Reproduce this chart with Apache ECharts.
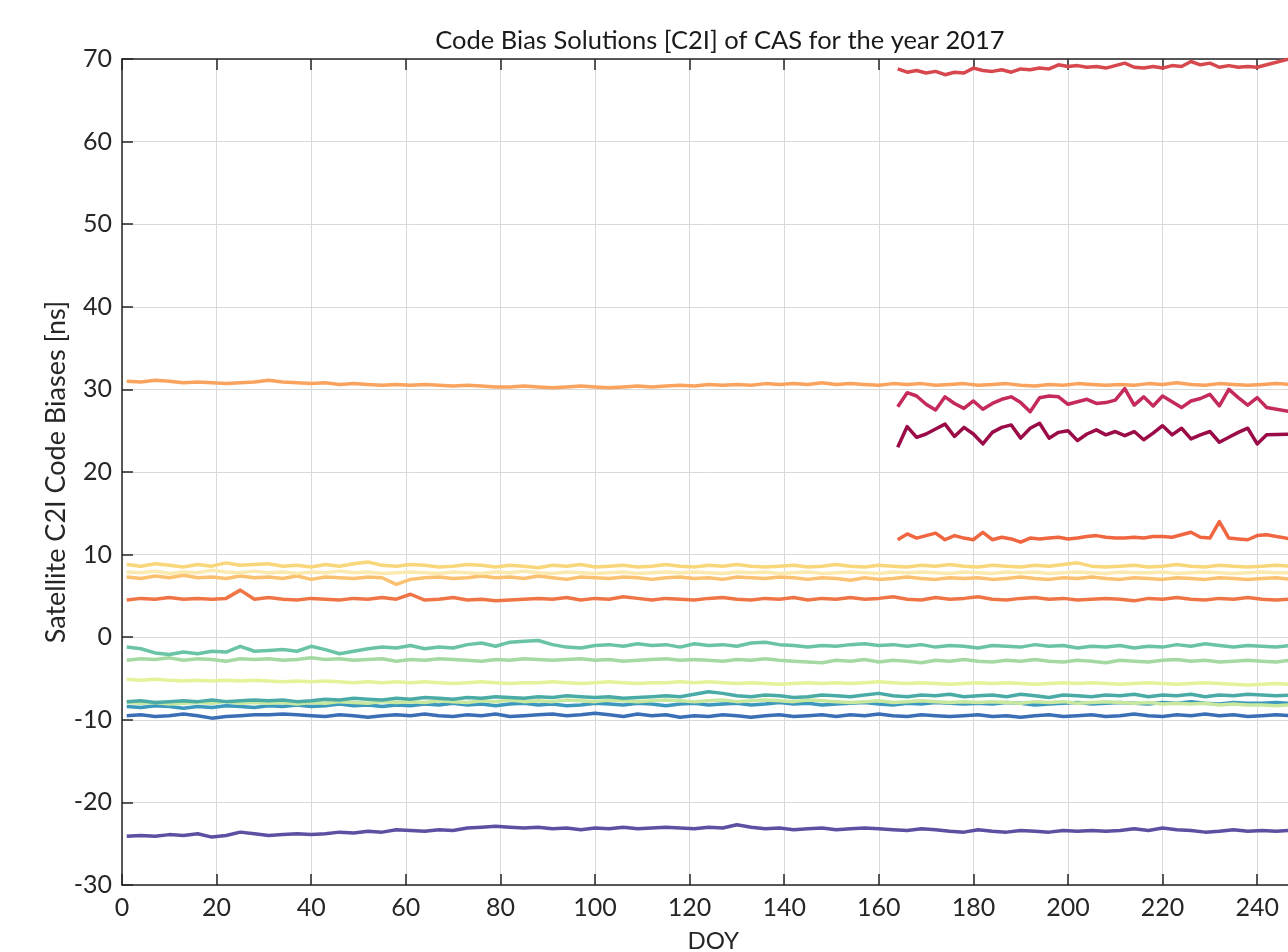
<!DOCTYPE html>
<html>
<head>
<meta charset="utf-8">
<title>Code Bias Solutions [C2I] of CAS</title>
<script src="https://cdn.jsdelivr.net/npm/echarts@6/dist/echarts.min.js"></script>
<style>
  html, body { margin: 0; padding: 0; background: #fff; }
  #chart { width: 1288px; height: 952px; }
</style>
</head>
<body>
<div id="chart"></div>
<script>
// sampling days (DOY)
const fullDays = [1,4,7,10,13,16,19,22,25,28,31,34,37,40,43,46,49,52,55,58,61,64,67,70,73,76,79,82,85,88,
  91,94,97,100,103,106,109,112,115,118,121,124,127,130,133,136,139,142,145,148,151,154,157,160,163,166,169,172,175,178,
  181,184,187,190,193,196,199,202,205,208,211,214,217,220,223,226,229,232,235,238,241,244,247];
const lateDays = [164,166,168,170,172,174,176,178,180,182,184,186,188,190,192,194,196,198,200,202,
  204,206,208,210,212,214,216,218,220,222,224,226,228,230,232,234,236,238,240,242,250];

// satellites that start at DOY 164
const satRed = [68.8,68.4,68.6,68.3,68.5,68.1,68.4,68.3,68.9,68.6,68.5,68.7,68.4,68.8,68.7,68.9,68.8,69.3,69.1,69.2,
  69.0,69.1,68.9,69.2,69.5,69.0,68.9,69.1,68.9,69.2,69.1,69.7,69.3,69.5,69.0,69.2,69.0,69.1,69.0,69.3,70.5];
const satCrimson = [27.9,29.6,29.2,28.2,27.5,29.1,28.3,27.7,28.6,27.6,28.3,28.8,29.1,28.4,27.3,29.0,29.2,29.1,28.2,28.5,
  28.8,28.3,28.4,28.7,30.1,28.1,29.1,28.0,29.2,28.5,27.8,28.6,28.9,29.4,28.0,30.0,29.0,28.1,29.0,27.8,27.0];
const satMaroon = [23.0,25.5,24.2,24.6,25.2,25.8,24.3,25.4,24.6,23.4,24.8,25.4,25.7,24.1,25.3,25.9,24.1,24.8,25.0,23.8,
  24.6,25.1,24.5,24.9,24.4,24.9,23.9,24.7,25.6,24.5,25.3,24.0,24.5,24.9,23.6,24.2,24.8,25.3,23.4,24.5,24.6];
const satOrangeRed = [11.8,12.5,12.0,12.3,12.6,11.8,12.3,12.0,11.8,12.7,11.8,12.1,11.9,11.5,12.0,11.9,12.0,12.1,11.9,12.0,
  12.2,12.3,12.1,12.0,12.0,12.1,12.0,12.2,12.2,12.1,12.4,12.7,12.1,12.0,14.0,12.0,11.9,11.8,12.3,12.4,11.6];

// satellites over the whole period
const satOrange30 = [31.0,30.9,31.1,31.0,30.8,30.9,30.8,30.7,30.8,30.9, 31.1,30.9,30.8,30.7,30.8,30.6,30.7,30.6,30.5,30.6,
  30.5,30.6,30.5,30.4,30.5,30.4,30.3,30.3,30.4,30.3, 30.2,30.3,30.4,30.3,30.2,30.3,30.4,30.3,30.4,30.5,
  30.4,30.6,30.5,30.6,30.5,30.7,30.6,30.7,30.6,30.8, 30.6,30.7,30.6,30.5,30.7,30.6,30.7,30.5,30.6,30.7,
  30.5,30.6,30.7,30.5,30.4,30.6,30.5,30.7,30.6,30.5, 30.6,30.5,30.7,30.6,30.8,30.6,30.5,30.7,30.6,30.5, 30.6,30.7,30.6];
const satYellow = [8.8,8.6,8.9,8.7,8.5,8.8,8.6,9.0,8.7,8.8, 8.9,8.6,8.7,8.5,8.8,8.6,8.9,9.1,8.7,8.6,
  8.8,8.7,8.5,8.6,8.8,8.7,8.5,8.7,8.6,8.4, 8.7,8.6,8.8,8.5,8.6,8.7,8.5,8.6,8.8,8.6,
  8.5,8.7,8.6,8.8,8.6,8.5,8.6,8.7,8.5,8.6, 8.8,8.6,8.5,8.7,8.6,8.5,8.7,8.6,8.8,8.6,
  8.5,8.7,8.6,8.5,8.7,8.6,8.8,9.0,8.6,8.5, 8.6,8.7,8.5,8.6,8.8,8.6,8.5,8.7,8.6,8.5, 8.6,8.7,8.6];
const satPale = [7.9,7.8,8.0,7.7,7.9,7.8,8.1,7.9,7.8,8.0, 7.8,7.9,7.7,7.9,7.8,8.0,7.8,7.9,7.7,7.8,
  7.9,7.8,7.7,7.9,7.8,7.7,7.9,7.8,8.0,7.8, 7.7,7.9,7.8,7.7,7.8,7.9,7.7,7.8,7.9,7.8,
  7.9,7.8,7.7,7.9,7.8,7.9,7.7,7.8,7.9,7.7, 7.8,7.9,7.8,7.7,7.9,7.8,7.9,7.8,7.7,7.9,
  7.8,7.7,7.9,7.8,7.9,7.7,7.8,7.9,7.8,7.7, 7.9,7.8,7.8,7.9,7.7,7.8,7.9,7.8,7.7,7.8, 7.9,7.8,7.8];
const satOrangeYellow = [7.3,7.1,7.4,7.2,7.5,7.2,7.3,7.1,7.4,7.2, 7.3,7.1,7.4,7.0,7.3,7.2,7.1,7.3,7.2,6.4,
  7.0,7.2,7.3,7.1,7.2,7.4,7.2,7.3,7.1,7.4, 7.2,7.0,7.3,7.2,7.1,7.3,7.2,7.0,7.2,7.3,
  7.1,7.2,7.0,7.3,7.2,7.1,7.3,7.2,7.0,7.2, 7.1,6.9,7.2,7.0,7.1,7.3,7.1,7.0,7.2,7.1,
  7.2,7.0,7.1,7.3,7.1,7.0,7.2,7.1,7.3,7.1, 7.0,7.2,7.1,7.0,7.2,7.1,7.0,7.2,7.1,7.0, 7.1,7.2,7.0];
const satOrange5 = [4.5,4.7,4.6,4.8,4.6,4.7,4.6,4.7,5.7,4.6, 4.8,4.6,4.5,4.7,4.6,4.5,4.7,4.6,4.8,4.6,
  5.2,4.5,4.6,4.8,4.5,4.6,4.4,4.5,4.6,4.7, 4.6,4.8,4.5,4.7,4.6,4.9,4.7,4.5,4.7,4.6,
  4.5,4.7,4.8,4.6,4.5,4.7,4.6,4.8,4.5,4.7, 4.6,4.8,4.6,4.7,4.9,4.6,4.5,4.8,4.6,4.7,
  4.9,4.6,4.5,4.7,4.8,4.6,4.7,4.5,4.6,4.7, 4.6,4.4,4.7,4.6,4.8,4.6,4.5,4.7,4.6,4.8, 4.6,4.5,4.6];
const satGreen = [-1.2,-1.4,-1.9,-2.1,-1.8,-2.0,-1.7,-1.8,-1.1,-1.7, -1.6,-1.5,-1.7,-1.1,-1.5,-2.0,-1.7,-1.4,-1.2,-1.3,
  -1.0,-1.4,-1.2,-1.3,-0.9,-0.7,-1.1,-0.6,-0.5,-0.4, -0.9,-1.2,-1.3,-1.0,-0.9,-1.1,-0.8,-1.0,-0.9,-1.2,
  -0.8,-1.0,-0.9,-1.1,-0.7,-0.6,-0.9,-1.0,-1.2,-1.0, -1.1,-0.9,-0.8,-1.0,-0.9,-1.1,-0.9,-1.2,-1.0,-1.1,
  -1.3,-1.0,-1.1,-1.2,-0.9,-1.1,-1.0,-1.3,-1.1,-1.2, -1.0,-1.3,-1.1,-1.2,-0.9,-1.1,-0.8,-1.0,-1.2,-1.0, -1.1,-1.2,-1.0];
const satLightGreen = [-2.8,-2.6,-2.7,-2.5,-2.8,-2.6,-2.7,-2.9,-2.6,-2.7, -2.6,-2.8,-2.7,-2.5,-2.7,-2.6,-2.8,-2.7,-2.6,-2.9,
  -2.7,-2.8,-2.6,-2.7,-2.8,-2.9,-2.7,-2.8,-2.6,-2.7, -2.8,-2.7,-2.6,-2.8,-2.7,-2.9,-2.8,-2.7,-2.6,-2.8,
  -2.7,-2.8,-2.9,-2.7,-2.8,-2.6,-2.8,-2.9,-3.0,-3.1, -2.8,-2.9,-2.7,-3.0,-2.8,-2.9,-3.1,-2.8,-2.9,-2.7,
  -2.9,-3.0,-2.8,-2.9,-2.7,-2.9,-3.0,-2.8,-2.9,-3.1, -2.8,-2.9,-3.0,-2.8,-2.7,-2.9,-2.8,-3.0,-2.9,-2.8, -2.9,-3.0,-2.8];
const satPaleGreen = [-5.1,-5.2,-5.1,-5.2,-5.3,-5.2,-5.3,-5.2,-5.3,-5.2, -5.3,-5.4,-5.3,-5.4,-5.3,-5.4,-5.5,-5.4,-5.5,-5.4,
  -5.5,-5.4,-5.5,-5.6,-5.5,-5.4,-5.5,-5.6,-5.5,-5.5, -5.4,-5.5,-5.6,-5.5,-5.4,-5.5,-5.6,-5.5,-5.5,-5.4,
  -5.5,-5.4,-5.5,-5.6,-5.5,-5.6,-5.7,-5.6,-5.5,-5.6, -5.5,-5.6,-5.5,-5.4,-5.5,-5.6,-5.5,-5.6,-5.7,-5.6,
  -5.5,-5.6,-5.5,-5.6,-5.7,-5.6,-5.5,-5.6,-5.5,-5.6, -5.7,-5.6,-5.5,-5.6,-5.7,-5.6,-5.5,-5.6,-5.7,-5.8, -5.7,-5.6,-5.7];
const satTeal = [-7.8,-7.7,-7.9,-7.8,-7.7,-7.8,-7.6,-7.8,-7.7,-7.6, -7.7,-7.6,-7.8,-7.7,-7.5,-7.6,-7.4,-7.5,-7.6,-7.4,
  -7.5,-7.3,-7.4,-7.5,-7.3,-7.4,-7.2,-7.3,-7.4,-7.2, -7.3,-7.1,-7.2,-7.3,-7.2,-7.4,-7.3,-7.2,-7.1,-7.2,
  -6.9,-6.6,-6.8,-7.1,-7.2,-7.0,-7.1,-7.3,-7.2,-7.0, -7.1,-7.2,-7.0,-6.8,-7.1,-7.2,-7.0,-7.1,-6.9,-7.2,
  -7.1,-7.0,-7.2,-6.9,-7.1,-7.3,-7.0,-7.1,-7.2,-7.0, -7.1,-6.9,-7.2,-7.0,-7.1,-6.9,-7.2,-7.0,-7.1,-6.9, -7.0,-7.1,-7.0];
const satLightGreen2 = [-7.9,-8.0,-7.9,-8.1,-8.0,-7.9,-8.0,-7.8,-8.0,-7.9, -8.0,-7.9,-8.1,-7.9,-8.0,-7.8,-7.9,-8.0,-7.8,-7.9,
  -7.8,-7.9,-7.7,-7.8,-7.9,-7.7,-7.8,-7.6,-7.8,-7.7, -7.8,-7.6,-7.7,-7.8,-7.6,-7.7,-7.8,-7.7,-7.6,-7.7,
  -7.8,-7.7,-7.6,-7.8,-7.7,-7.6,-7.7,-7.8,-7.6,-7.7, -7.8,-7.9,-7.8,-7.7,-7.9,-7.8,-7.7,-7.8,-7.9,-7.8,
  -7.9,-7.8,-7.9,-8.0,-7.8,-7.9,-7.8,-8.0,-7.9,-7.8, -7.9,-8.0,-7.9,-8.1,-8.0,-8.1,-8.0,-8.2,-8.1,-8.2, -8.2,-8.3,-8.2];
const satCyan = [-8.4,-8.5,-8.3,-8.4,-8.6,-8.4,-8.5,-8.3,-8.4,-8.5, -8.3,-8.4,-8.2,-8.4,-8.3,-8.1,-8.3,-8.2,-8.4,-8.2,
  -8.3,-8.1,-8.2,-8.0,-8.2,-8.1,-8.3,-8.1,-8.0,-8.2, -8.1,-8.3,-8.2,-8.0,-8.1,-8.2,-8.0,-8.1,-8.3,-8.1,
  -8.0,-8.2,-8.1,-8.0,-8.2,-8.1,-7.9,-8.1,-8.0,-8.2, -8.1,-8.0,-7.9,-8.1,-8.2,-8.0,-8.1,-7.9,-8.0,-8.1,
  -8.0,-8.1,-7.9,-8.0,-8.2,-8.1,-8.0,-7.9,-8.1,-8.0, -7.9,-8.0,-8.1,-7.9,-8.0,-7.8,-8.0,-8.1,-7.9,-8.0, -8.0,-7.9,-8.0];
const satBlue = [-9.5,-9.4,-9.6,-9.5,-9.3,-9.5,-9.8,-9.6,-9.5,-9.4, -9.4,-9.3,-9.4,-9.5,-9.6,-9.4,-9.5,-9.7,-9.5,-9.4,
  -9.5,-9.3,-9.5,-9.6,-9.4,-9.5,-9.3,-9.6,-9.5,-9.4, -9.3,-9.5,-9.4,-9.2,-9.4,-9.6,-9.3,-9.5,-9.4,-9.7,
  -9.5,-9.6,-9.4,-9.5,-9.7,-9.5,-9.4,-9.6,-9.5,-9.4, -9.6,-9.4,-9.5,-9.3,-9.5,-9.6,-9.4,-9.5,-9.6,-9.5,
  -9.4,-9.6,-9.5,-9.7,-9.5,-9.4,-9.6,-9.5,-9.4,-9.6, -9.5,-9.3,-9.5,-9.6,-9.4,-9.5,-9.3,-9.5,-9.4,-9.6, -9.5,-9.4,-9.5];
const satPurple = [-24.1,-24.0,-24.1,-23.9,-24.0,-23.8,-24.2,-24.0,-23.6,-23.8, -24.0,-23.9,-23.8,-23.9,-23.8,-23.6,-23.7,-23.5,-23.6,-23.3,
  -23.4,-23.5,-23.3,-23.4,-23.1,-23.0,-22.9,-23.0,-23.1,-23.0, -23.2,-23.1,-23.3,-23.1,-23.2,-23.0,-23.2,-23.1,-23.0,-23.1,
  -23.2,-23.0,-23.1,-22.7,-23.0,-23.2,-23.1,-23.3,-23.2,-23.1, -23.3,-23.2,-23.1,-23.2,-23.3,-23.4,-23.2,-23.3,-23.5,-23.6,
  -23.3,-23.5,-23.6,-23.4,-23.5,-23.6,-23.4,-23.5,-23.4,-23.5, -23.4,-23.2,-23.4,-23.1,-23.3,-23.4,-23.6,-23.5,-23.3,-23.5, -23.4,-23.5,-23.4];

const xTicks = [0, 20, 40, 60, 80, 100, 120, 140, 160, 180, 200, 220, 240];
const yTicks = [-30, -20, -10, 0, 10, 20, 30, 40, 50, 60, 70];

const chartDom = document.getElementById('chart');
const myChart = echarts.init(chartDom);

const font = 'Lato';
const axisColor = '#262626';
const gridColor = '#d9d9d9';

const lines = [
  { days: fullDays, vals: satPurple, color: '#5e4fa2' },
  { days: fullDays, vals: satBlue, color: '#3a6fb6' },
  { days: fullDays, vals: satCyan, color: '#3d98be' },
  { days: fullDays, vals: satLightGreen2, color: '#c8e89e' },
  { days: fullDays, vals: satTeal, color: '#4aaba6' },
  { days: fullDays, vals: satPaleGreen, color: '#e4f39a' },
  { days: fullDays, vals: satLightGreen, color: '#a5d9a3' },
  { days: fullDays, vals: satGreen, color: '#6ac4a4' },
  { days: fullDays, vals: satOrange5, color: '#f07546' },
  { days: fullDays, vals: satOrangeYellow, color: '#fbc170' },
  { days: fullDays, vals: satPale, color: '#fbeab0' },
  { days: fullDays, vals: satYellow, color: '#f8d67a' },
  { days: fullDays, vals: satOrange30, color: '#f9a35e' },
  { days: lateDays, vals: satOrangeRed, color: '#ef6640' },
  { days: lateDays, vals: satMaroon, color: '#9b0b47' },
  { days: lateDays, vals: satCrimson, color: '#c42a5a' },
  { days: lateDays, vals: satRed, color: '#d7474e' }
];

const series = lines.map((l) => ({
  type: 'line',
  showSymbol: false,
  symbol: 'none',
  clip: true,
  lineStyle: { color: l.color, width: 3.5, join: 'round' },
  data: l.days.map((d, i) => [d, l.vals[i]])
}));

const pxPerDay = 4.73;
const option = {
  animation: false,
  title: {
    text: 'Code Bias Solutions [C2I] of CAS for the year 2017',
    left: 715,
    top: 23,
    textAlign: 'center',
    textStyle: { fontFamily: font, fontSize: 25.5, fontWeight: 'normal', color: '#1a1a1a' }
  },
  grid: {
    left: 122, top: 59, width: 250 * pxPerDay, height: 826,
    containLabel: false, outerBoundsMode: 'none'
  },
  xAxis: [
    {
      type: 'value', min: 0, max: 250, interval: 20, position: 'bottom',
      name: 'DOY', nameLocation: 'middle', nameGap: 44, nameMoveOverlap: false,
      nameTextStyle: { fontFamily: font, fontSize: 24, color: axisColor },
      axisLine: { show: true, onZero: false, lineStyle: { color: axisColor, width: 1.5 } },
      axisTick: { show: true, inside: true, length: 11, customValues: xTicks, lineStyle: { color: axisColor, width: 1.5 } },
      axisLabel: { fontFamily: font, fontSize: 25, color: axisColor, margin: 10, customValues: xTicks },
      splitLine: { show: true, lineStyle: { color: gridColor, width: 1 } }
    },
    {
      type: 'value', min: 0, max: 250, interval: 20, position: 'top',
      axisLine: { show: true, onZero: false, lineStyle: { color: axisColor, width: 1.5 } },
      axisTick: { show: true, inside: true, length: 11, customValues: xTicks, lineStyle: { color: axisColor, width: 1.5 } },
      axisLabel: { show: false },
      splitLine: { show: false }
    }
  ],
  yAxis: {
    type: 'value', min: -30, max: 70, interval: 10,
    name: 'Satellite C2I Code Biases [ns]', nameLocation: 'middle', nameGap: 52, nameMoveOverlap: false,
    nameTextStyle: { fontFamily: font, fontSize: 27, color: axisColor },
    axisLine: { show: true, onZero: false, lineStyle: { color: axisColor, width: 1.5 } },
    axisTick: { show: true, inside: true, length: 11, customValues: yTicks, lineStyle: { color: axisColor, width: 1.5 } },
    axisLabel: { fontFamily: font, fontSize: 25, color: axisColor, margin: 10, customValues: yTicks },
    splitLine: { show: true, lineStyle: { color: gridColor, width: 1 } }
  },
  series
};

myChart.setOption(option);
</script>
</body>
</html>
